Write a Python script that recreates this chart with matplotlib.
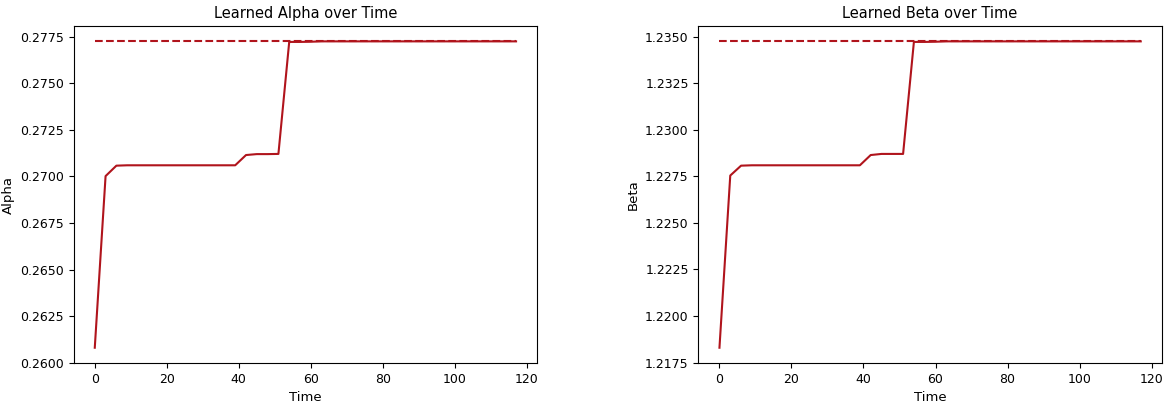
import numpy as np
import matplotlib
matplotlib.use('Agg')
import matplotlib.pyplot as plt

time = np.arange(0, 120, 3)  # 0, 3, ..., 117

alpha = [0.26081, 0.27002, 0.27058, 0.27060, 0.27060, 0.27060, 0.27060, 0.27060,
         0.27060, 0.27060, 0.27060, 0.27060, 0.27060, 0.27060, 0.27115, 0.27120,
         0.27120, 0.27121, 0.27722, 0.27722, 0.27723, 0.27725, 0.27725, 0.27725,
         0.27725, 0.27725, 0.27725, 0.27725, 0.27725, 0.27725, 0.27725, 0.27725,
         0.27725, 0.27725, 0.27725, 0.27725, 0.27725, 0.27725, 0.27725, 0.27725]
beta = [1.21830, 1.22754, 1.22807, 1.22809, 1.22809, 1.22809, 1.22809, 1.22809,
        1.22809, 1.22809, 1.22809, 1.22809, 1.22809, 1.22809, 1.22864, 1.22870,
        1.22870, 1.22870, 1.23471, 1.23471, 1.23472, 1.23474, 1.23474, 1.23474,
        1.23474, 1.23474, 1.23474, 1.23474, 1.23474, 1.23474, 1.23474, 1.23474,
        1.23474, 1.23474, 1.23474, 1.23474, 1.23474, 1.23474, 1.23474, 1.23474]
true_alpha = 0.27725
true_beta = 1.23474

color = '#b0141c'

fig, axes = plt.subplots(1, 2, figsize=(11.7, 4.07), dpi=100)
fig.subplots_adjust(left=0.063, right=0.993, bottom=0.108, top=0.936, wspace=0.348)

panels = [(axes[0], alpha, true_alpha, 'Alpha'), (axes[1], beta, true_beta, 'Beta')]
for ax, vals, true_val, name in panels:
    ax.plot(time, vals, color=color, linewidth=1.5)
    ax.plot(time, [true_val] * len(time), color=color, linestyle='--', linewidth=1.5)
    ax.set_title('Learned %s over Time' % name, fontsize=10.5)
    ax.set_xlabel('Time', fontsize=9.5)
    ax.set_ylabel(name, fontsize=9.5)
    ax.set_xticks(np.arange(0, 121, 20))
    ax.tick_params(labelsize=9)
    ax.yaxis.set_major_formatter(matplotlib.ticker.FormatStrFormatter('%.4f'))

axes[0].set_yticks(np.arange(0.2600, 0.27751, 0.0025))
axes[1].set_yticks(np.arange(1.2175, 1.23501, 0.0025))

fig.savefig('out.png', dpi=100)
